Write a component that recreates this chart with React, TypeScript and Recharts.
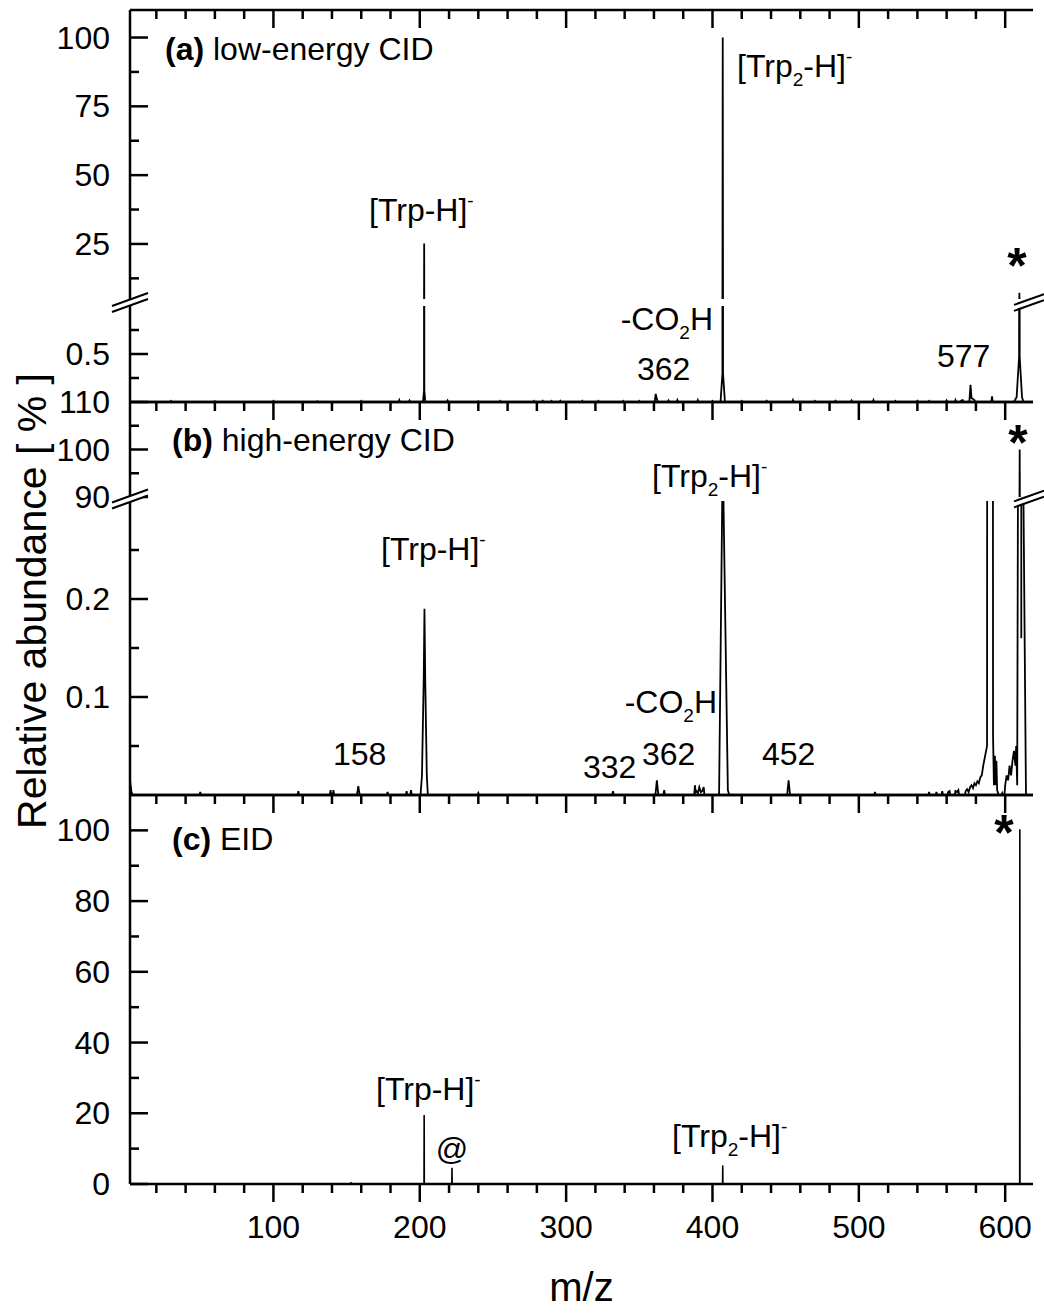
import React from "react";
import { LineChart, Line, XAxis, YAxis } from "recharts";

const FONT = '"Liberation Sans", Arial, Helvetica, sans-serif';
const W = 1044;
const H = 1315;
const PLOT_LEFT = 130;
const PLOT_RIGHT = 1033;
const FRAME = 2.5;
const MZ_DOMAIN: [number, number] = [2, 619];

// x axis ticks: minor every 20, labelled every 100
const MZ_TICKS = [
  20, 40, 60, 80, 100, 120, 140, 160, 180, 200, 220, 240, 260, 280, 300,
  320, 340, 360, 380, 400, 420, 440, 460, 480, 500, 520, 540, 560, 580, 600,
];
const MZ_LABELS = [100, 200, 300, 400, 500, 600];

// y ticks per axis segment
const A_UPPER_TICKS = [12.5, 25, 37.5, 50, 62.5, 75, 87.5, 100];
const A_UPPER_LABELS = [25, 50, 75, 100];
const A_LOWER_TICKS = [0.25, 0.5, 0.75];
const A_LOWER_LABELS = [0.5];
const B_UPPER_TICKS = [90, 95, 100, 105, 110];
const B_UPPER_LABELS = [90, 100, 110];
const B_LOWER_TICKS = [0.05, 0.1, 0.15, 0.2, 0.25];
const B_LOWER_LABELS = [0.1, 0.2];
const C_TICKS = [0, 10, 20, 30, 40, 50, 60, 70, 80, 90, 100];
const C_LABELS = [0, 20, 40, 60, 80, 100];

// (a) low-energy CID  [m/z, relative abundance %]
const LOW_ENERGY: [number, number][] = [
  [2, 0],
  [29.5, 0], [30, 0.01], [30.5, 0],
  [59.5, 0], [60, 0.008], [60.5, 0],
  [99.5, 0], [100, 0.01], [100.5, 0],
  [129.5, 0], [130, 0.008], [130.5, 0],
  [159.5, 0], [160, 0.01], [160.5, 0],
  [185.5, 0], [186, 0.02], [186.5, 0],
  [192.5, 0], [193, 0.015], [193.5, 0],
  [202.2, 0], [202.9, 0.12], [203, 25.2], [203.1, 0.12], [203.8, 0],
  [218.5, 0], [219, 0.015], [219.5, 0],
  [239.5, 0], [240, 0.008], [240.5, 0],
  [254.5, 0], [255, 0.01], [255.5, 0],
  [277.5, 0], [278, 0.01], [278.5, 0],
  [283.5, 0], [284, 0.012], [284.5, 0],
  [289.5, 0], [290, 0.01], [290.5, 0],
  [295.5, 0], [296, 0.012], [296.5, 0],
  [310.5, 0], [311, 0.012], [311.5, 0],
  [321.5, 0], [322, 0.01], [322.5, 0],
  [338.5, 0], [339, 0.01], [339.5, 0],
  [349.5, 0], [350, 0.01], [350.5, 0],
  [360.5, 0], [361.2, 0.085], [362, 0.03], [362.8, 0],
  [369.5, 0], [370, 0.015], [370.5, 0],
  [375.5, 0], [376, 0.02], [376.5, 0],
  [389.5, 0], [390, 0.02], [390.5, 0],
  [399.5, 0], [400, 0.01], [400.5, 0],
  [405.5, 0], [406.8, 0.3], [407, 100], [407.2, 0.3], [408.5, 0],
  [419.5, 0], [420, 0.01], [420.5, 0],
  [436.5, 0], [437, 0.012], [437.5, 0],
  [454.5, 0], [455, 0.02], [455.5, 0],
  [469.5, 0], [470, 0.01], [470.5, 0],
  [483.5, 0], [484, 0.012], [484.5, 0],
  [494.5, 0], [495, 0.015], [495.5, 0],
  [509.5, 0], [510, 0.02], [510.5, 0],
  [524.5, 0], [525, 0.01], [525.5, 0],
  [539.5, 0], [540, 0.012], [540.5, 0],
  [547.5, 0], [548, 0.01], [548.5, 0],
  [559.5, 0], [560, 0.015], [560.5, 0],
  [565.5, 0], [566, 0.02], [566.5, 0],
  [569.5, 0], [570, 0.015], [571, 0.02], [571.5, 0],
  [575.5, 0], [576.3, 0.18], [577, 0.04], [578, 0.03], [579, 0.02], [579.5, 0],
  [590.5, 0], [591, 0.06], [591.5, 0],
  [606, 0], [607.8, 0.05], [609.5, 0.47], [609.7, 7.3], [609.9, 0.47],
  [611.5, 0.05], [612.5, 0], [619, 0],
];

// (b) high-energy CID
const HIGH_ENERGY: [number, number][] = [
  [2, 0.015], [3, 0.003], [4, 0],
  [49.5, 0], [50, 0.003], [50.5, 0],
  [116.5, 0], [117, 0.004], [117.5, 0],
  [138.5, 0], [139, 0.005], [139.5, 0], [140.5, 0], [141, 0.005], [141.5, 0],
  [157, 0], [157.5, 0.004], [158, 0.009], [158.5, 0.004], [159, 0],
  [177.5, 0], [178, 0.003], [178.5, 0],
  [190.5, 0], [191, 0.004], [191.5, 0],
  [193.5, 0], [194, 0.005], [194.5, 0],
  [200.5, 0], [201.5, 0.02], [202.7, 0.12], [203.2, 0.19], [203.7, 0.12],
  [204.8, 0.02], [205.5, 0],
  [239.5, 0], [240, 0.002], [240.5, 0],
  [331.5, 0], [332, 0.004], [332.5, 0],
  [361, 0], [362, 0.015], [363, 0],
  [366.5, 0], [367, 0.005], [367.5, 0],
  [387.5, 0], [388, 0.01], [388.5, 0.003], [389, 0.004], [390, 0.002],
  [391, 0.008], [392, 0.003], [393, 0.004], [394, 0.008], [394.5, 0],
  [404.5, 0], [406.8, 0.32], [407, 3], [407.3, 0.32], [410.5, 0.005], [411.5, 0],
  [451, 0], [452, 0.015], [453, 0],
  [510.5, 0], [511, 0.003], [511.5, 0],
  [547.5, 0], [548, 0.003], [548.5, 0],
  [552.5, 0], [553, 0.003], [553.5, 0],
  [556.5, 0], [557, 0.004], [557.5, 0],
  [560.5, 0], [561, 0.003], [562, 0.004], [562.5, 0],
  [565.5, 0], [566, 0.004], [567, 0.003], [568, 0.005], [568.5, 0],
  [572.5, 0], [573, 0.004], [574, 0.006], [575, 0.003], [576, 0.008],
  [577, 0.01], [578, 0.007], [579, 0.012], [580, 0.01], [581, 0.014],
  [582, 0.012], [583, 0.018], [584, 0.02], [585, 0.03], [587.6, 0.05],
  [588, 1.5], [591.3, 1.5], [591.7, 0.06], [592.3, 0.01], [593, 0.04],
  [593.4, 0.01], [594, 0.035], [594.5, 0.005], [595.5, 0],
  [597.5, 0], [598, 0.002], [598.5, 0],
  [599.5, 0], [600, 0.01], [601, 0.02], [602, 0.015], [603, 0.03],
  [604, 0.02], [605, 0.035], [606, 0.045], [607, 0.03], [607.5, 0.05],
  [608.2, 0.01], [608.7, 0.3], [609.9, 100], [611, 0.16], [611.6, 60],
  [612.5, 0.3], [614.2, 0], [619, 0],
];

// (c) EID
const EID: [number, number][] = [
  [2, 0], [152.5, 0], [153, 0.3], [153.5, 0],
  [202.9, 0], [203, 19.5], [203.1, 0],
  [221.9, 0], [222, 4.6], [222.1, 0],
  [406.9, 0], [407, 5.2], [407.1, 0],
  [609.9, 0], [610, 100.3], [610.1, 0], [619, 0],
];

const TICK_FONT = 32;

function fmt(v: number) {
  return String(v);
}

function YTick(props: any) {
  const { x, y, payload, labels } = props;
  const v = payload.value;
  const major = labels.includes(v);
  return (
    <g>
      <line x1={x} x2={x + (major ? 18 : 9)} y1={y} y2={y} stroke="#000" strokeWidth={FRAME} />
      {major && (
        <text x={x - 20} y={y + 11} textAnchor="end" fontSize={TICK_FONT} fontFamily={FONT} fill="#000">
          {fmt(v)}
        </text>
      )}
    </g>
  );
}

function XTick(props: any) {
  const { x, y, payload, withLabels } = props;
  const v = payload.value;
  const major = MZ_LABELS.includes(v);
  return (
    <g>
      <line x1={x} x2={x} y1={y} y2={y + (major ? 18 : 9)} stroke="#000" strokeWidth={FRAME} />
      {withLabels && major && (
        <text x={x} y={y + 54} textAnchor="middle" fontSize={TICK_FONT} fontFamily={FONT} fill="#000">
          {fmt(v)}
        </text>
      )}
    </g>
  );
}

type SegmentProps = {
  points: [number, number][];
  top: number;
  bottom: number;
  domain: [number, number];
  yTicks: number[];
  yLabels: number[];
  topAxis: boolean;
  bottomAxis: "none" | "line" | "labels";
  lineWidth: number;
};

function Segment({ points, top, bottom, domain, yTicks, yLabels, topAxis, bottomAxis, lineWidth }: SegmentProps) {
  const padTop = 22;
  const padBottom = bottomAxis === "labels" ? 70 : 22;
  const data = points.map(([mz, v]) => ({ mz, v }));
  const axisLine = { stroke: "#000", strokeWidth: FRAME };
  const xId = topAxis ? "t" : "b";
  const hasBottom = bottomAxis !== "none";
  return (
    <div style={{ position: "absolute", left: 0, top: top - padTop }}>
      <LineChart
        width={W}
        height={bottom - top + padTop + padBottom}
        data={data}
        margin={{
          top: topAxis ? padTop - 1 : padTop,
          right: W - PLOT_RIGHT,
          bottom: hasBottom ? padBottom - 1 : padBottom,
          left: 0,
        }}
      >
        {topAxis && (
          <XAxis
            xAxisId="t"
            orientation="top"
            dataKey="mz"
            type="number"
            domain={MZ_DOMAIN}
            allowDataOverflow
            height={1}
            ticks={MZ_TICKS}
            interval={0}
            tickSize={0}
            tickMargin={0}
            tickLine={false}
            axisLine={axisLine}
            tick={(p: any) => <XTick {...p} withLabels={false} />}
          />
        )}
        {hasBottom && (
          <XAxis
            xAxisId="b"
            orientation="bottom"
            dataKey="mz"
            type="number"
            domain={MZ_DOMAIN}
            allowDataOverflow
            height={1}
            ticks={MZ_TICKS}
            interval={0}
            tickSize={0}
            tickMargin={0}
            tickLine={false}
            axisLine={axisLine}
            tick={bottomAxis === "labels" ? (p: any) => <XTick {...p} withLabels /> : false}
          />
        )}
        <YAxis
          yAxisId="l"
          width={PLOT_LEFT}
          type="number"
          domain={domain}
          allowDataOverflow
          ticks={yTicks}
          interval={0}
          tickSize={0}
          tickMargin={0}
          tickLine={false}
          axisLine={axisLine}
          tick={(p: any) => <YTick {...p} labels={yLabels} />}
        />
        <YAxis
          yAxisId="r"
          orientation="right"
          width={0}
          type="number"
          domain={domain}
          allowDataOverflow
          tick={false}
          tickLine={false}
          axisLine={axisLine}
        />
        <Line
          xAxisId={xId}
          yAxisId="l"
          type="linear"
          dataKey="v"
          stroke="#000"
          strokeWidth={lineWidth}
          dot={false}
          activeDot={false}
          isAnimationActive={false}
        />
      </LineChart>
    </div>
  );
}

function BreakMark({ cx, cy, half }: { cx: number; cy: number; half: number }) {
  const s = 0.36;
  const g = 3;
  const x1 = cx - half;
  const x2 = cx + half;
  const y1 = cy + s * half;
  const y2 = cy - s * half;
  return (
    <g>
      <polygon points={`${x1},${y1 - g} ${x2},${y2 - g} ${x2},${y2 + g} ${x1},${y1 + g}`} fill="#fff" />
      <line x1={x1} y1={y1 - g} x2={x2} y2={y2 - g} stroke="#000" strokeWidth={2} />
      <line x1={x1} y1={y1 + g} x2={x2} y2={y2 + g} stroke="#000" strokeWidth={2} />
    </g>
  );
}

const SUB = 19;

function Ion({ x, y, dimer }: { x: number; y: number; dimer?: boolean }) {
  return (
    <text x={x} y={y} fontSize={32} fontFamily={FONT} fill="#000">
      [Trp
      {dimer && (
        <tspan fontSize={SUB} dy={9}>
          2
        </tspan>
      )}
      <tspan dy={dimer ? -9 : 0}>-H]</tspan>
      <tspan fontSize={SUB} dy={-14}>
        -
      </tspan>
    </text>
  );
}

function LossCO2H({ x, y }: { x: number; y: number }) {
  return (
    <text x={x} y={y} textAnchor="end" fontSize={32} fontFamily={FONT} fill="#000">
      -CO
      <tspan fontSize={SUB} dy={9}>
        2
      </tspan>
      <tspan dy={-9}>H</tspan>
    </text>
  );
}

function Label({ x, y, children, anchor = "start" }: any) {
  return (
    <text x={x} y={y} textAnchor={anchor} fontSize={32} fontFamily={FONT} fill="#000">
      {children}
    </text>
  );
}

function Star({ x, y }: { x: number; y: number }) {
  return (
    <text x={x} y={y} textAnchor="middle" fontSize={50} fontWeight="bold" fontFamily={FONT} fill="#000">
      *
    </text>
  );
}

function Title({ x, y, tag, text }: { x: number; y: number; tag: string; text: string }) {
  return (
    <text x={x} y={y} fontSize={32} fontFamily={FONT} fill="#000">
      <tspan fontWeight="bold">{tag}</tspan>
      {" " + text}
    </text>
  );
}

export default function App() {
  return (
    <div style={{ position: "absolute", left: 0, top: 0, width: W, height: H, background: "#fff" }}>
      <Segment points={LOW_ENERGY} top={10} bottom={299} domain={[5, 110]} yTicks={A_UPPER_TICKS} yLabels={A_UPPER_LABELS} topAxis bottomAxis="none" lineWidth={1.8} />
      <Segment points={LOW_ENERGY} top={306} bottom={402} domain={[0, 1]} yTicks={A_LOWER_TICKS} yLabels={A_LOWER_LABELS} topAxis={false} bottomAxis="line" lineWidth={1.8} />
      <Segment points={HIGH_ENERGY} top={402} bottom={497} domain={[90, 110]} yTicks={B_UPPER_TICKS} yLabels={B_UPPER_LABELS} topAxis bottomAxis="none" lineWidth={1.8} />
      <Segment points={HIGH_ENERGY} top={501} bottom={795} domain={[0, 0.3]} yTicks={B_LOWER_TICKS} yLabels={B_LOWER_LABELS} topAxis={false} bottomAxis="line" lineWidth={1.8} />
      <Segment points={EID} top={795} bottom={1184} domain={[0, 110]} yTicks={C_TICKS} yLabels={C_LABELS} topAxis bottomAxis="labels" lineWidth={1.6} />

      <svg width={W} height={H} style={{ position: "absolute", left: 0, top: 0, pointerEvents: "none" }}>
        <BreakMark cx={PLOT_LEFT} cy={302.5} half={18} />
        <BreakMark cx={PLOT_RIGHT - 4} cy={302.5} half={15} />
        <BreakMark cx={PLOT_LEFT} cy={499} half={18} />
        <BreakMark cx={PLOT_RIGHT - 4} cy={499} half={15} />

        <text
          x={46}
          y={601}
          transform="rotate(-90 46 601)"
          textAnchor="middle"
          fontSize={41}
          fontFamily={FONT}
          fill="#000"
        >
          Relative abundance [ % ]
        </text>
        <text x={(PLOT_LEFT + PLOT_RIGHT) / 2} y={1301} textAnchor="middle" fontSize={40} fontFamily={FONT} fill="#000">
          m/z
        </text>

        {/* (a) */}
        <Title x={165} y={60} tag="(a)" text="low-energy CID" />
        <Ion x={369} y={221} />
        <Ion x={737} y={77} dimer />
        <LossCO2H x={713} y={330} />
        <Label x={637} y={380}>362</Label>
        <Label x={937} y={367}>577</Label>
        <Star x={1017} y={283} />

        {/* (b) */}
        <Title x={172} y={451} tag="(b)" text="high-energy CID" />
        <Ion x={381} y={560} />
        <Ion x={652} y={487} dimer />
        <LossCO2H x={717} y={713} />
        <Label x={333} y={765}>158</Label>
        <Label x={583} y={778}>332</Label>
        <Label x={642} y={765}>362</Label>
        <Label x={762} y={765}>452</Label>
        <Star x={1018} y={460} />

        {/* (c) */}
        <Title x={172} y={850} tag="(c)" text="EID" />
        <Ion x={376} y={1100} />
        <Label x={452} y={1160} anchor="middle">@</Label>
        <Ion x={672} y={1147} dimer />
        <Star x={1004} y={850} />
      </svg>
    </div>
  );
}
